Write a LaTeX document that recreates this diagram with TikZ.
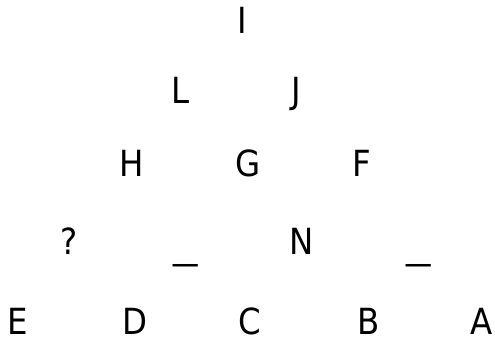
\documentclass[tikz,border=0pt]{standalone}
\usepackage{fontspec}
\setmainfont{DejaVu Sans Condensed}
\begin{document}
\begin{tikzpicture}[x=1pt,y=1pt,
  letter/.style={font=\fontsize{36}{40}\selectfont, inner sep=0pt, anchor=base},
  blank/.style={font=\fontsize{36}{40}\selectfont, inner sep=0pt, anchor=center, xscale=1.5}]
\useasboundingbox (0,0) rectangle (495,340);
\node[letter] (I) at (242,306) {I};
\node[letter] (L) at (181,236) {L};
\node[letter] (J) at (296,236) {J};
\node[letter] (H) at (132,163) {H};
\node[letter] (G) at (248,163) {G};
\node[letter] (F) at (362,163) {F};
\node[letter] (Q) at (69,85) {?};
\node[blank] (U1) at (186,77) {\_};
\node[letter] (N) at (302,85) {N};
\node[blank] (U2) at (419,77) {\_};
\node[letter] (E) at (18,6) {E};
\node[letter] (D) at (135,6) {D};
\node[letter] (C) at (250,6) {C};
\node[letter] (B) at (369,6) {B};
\node[letter] (A) at (482,6) {A};
\end{tikzpicture}
\end{document}
